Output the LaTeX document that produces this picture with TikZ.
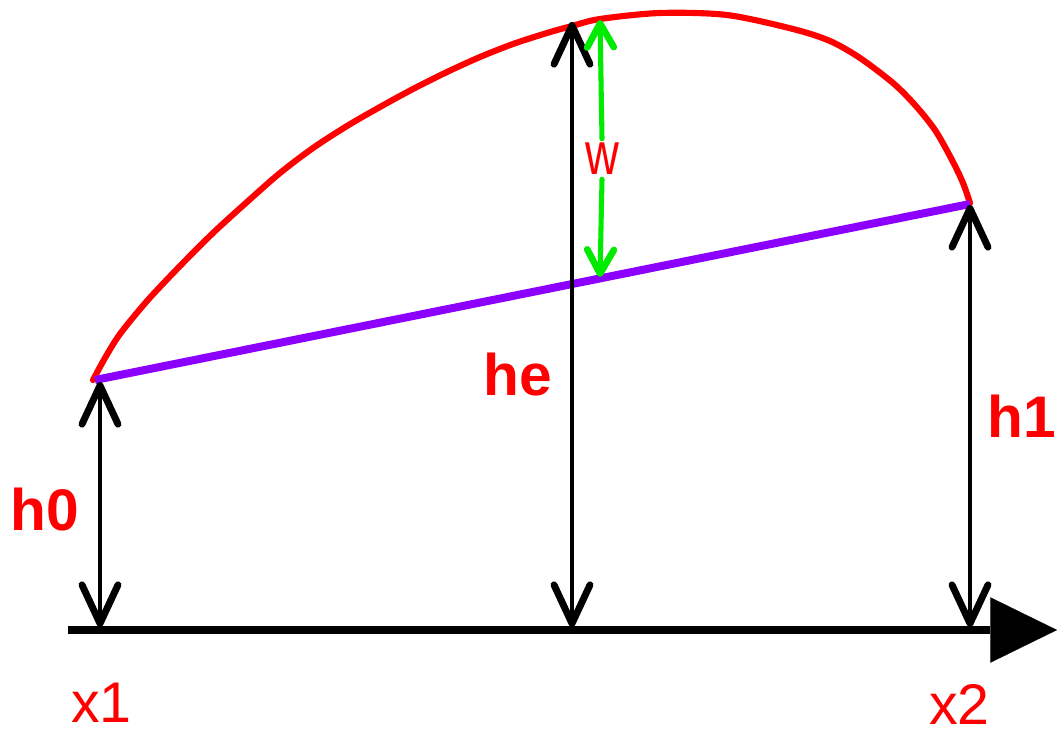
\documentclass[tikz,border=0pt]{standalone}
\usepackage{fontspec}
\setmainfont{Liberation Sans}
\usetikzlibrary{arrows.meta}
\definecolor{cred}{RGB}{255,0,0}
\definecolor{cpurple}{RGB}{140,0,255}
\definecolor{cgreen}{RGB}{0,235,0}
\tikzset{
  blackdim/.style={line width=3.4pt, line cap=round,
    {Straight Barb[length=29pt,width=27pt,line width=5.2pt,round]}-{Straight Barb[length=29pt,width=27pt,line width=5.2pt,round]}},
  greenup/.style={cgreen, line width=3.8pt, line cap=round,
    -{Straight Barb[length=18pt,width=20pt,line width=5pt,round]}},
  axisline/.style={line width=6pt, -{Triangle[length=50pt,width=49pt,line width=0.1pt]}},
  curveline/.style={cred, line width=4.6pt, line cap=round},
  chordline/.style={cpurple, line width=6pt},
  lab/.style={cred, inner sep=0pt, anchor=base west, font=\fontsize{44}{44}\selectfont\bfseries},
  labreg/.style={cred, inner sep=0pt, anchor=base west, font=\fontsize{43}{43}\selectfont}
}
\begin{document}
\begin{tikzpicture}[x=0.75pt, y=-0.75pt]
\fill[white] (0,0) rectangle (1057,734);
\useasboundingbox (0,0) rectangle (1057,734);
% coordinates
\coordinate (O) at (68,630);
\coordinate (X) at (1057,630);
\coordinate (A) at (95,380);
\coordinate (B) at (970,204);
\coordinate (F0) at (100,627);
\coordinate (T0) at (100,382);
\coordinate (Fe) at (572,627);
\coordinate (Te) at (572,22);
\coordinate (F1) at (970,627);
\coordinate (T1) at (970,205);
\coordinate (G1) at (600,20);
\coordinate (G2) at (600,277);
% red curve
\draw[curveline] plot[smooth, tension=0.5] coordinates {
 (93,380) (105,358) (120,334) (147,301) (180,266) (213,233) (247,202)
 (280,173) (313,148) (347,126) (380,107) (413,89) (447,72) (480,57)
 (513,44) (547,33) (572,26) (600,19) (660,13) (727,15) (793,29)
 (830,41) (860,58) (893,83) (915,105) (935,130) (952,160) (963,183) (970,203)};
% chord
\draw[chordline] (A) -- (B);
% axis
\draw[axisline] (O) -- (X);
% height arrows
\draw[blackdim] (F0) -- (T0);
\draw[blackdim] (Fe) -- (Te);
\draw[blackdim] (F1) -- (T1);
% w label and green arrow
\node[cred, inner sep=0pt, minimum height=30pt, font=\fontsize{45}{45}\selectfont] (w) at (602,159) {\scalebox{0.78}[1]{w}};
\draw[greenup] (w.north) -- (G1);
\draw[greenup] (w.south) -- (G2);
% labels
\node[lab] (h0) at (10,530) {h0};
\node[lab] (he) at (483,396) {he};
\node[lab] (h1) at (987,437) {h1};
\node[labreg] (x1) at (71,722) {x1};
\node[labreg] (x2) at (929,724) {x2};
\end{tikzpicture}
\end{document}
